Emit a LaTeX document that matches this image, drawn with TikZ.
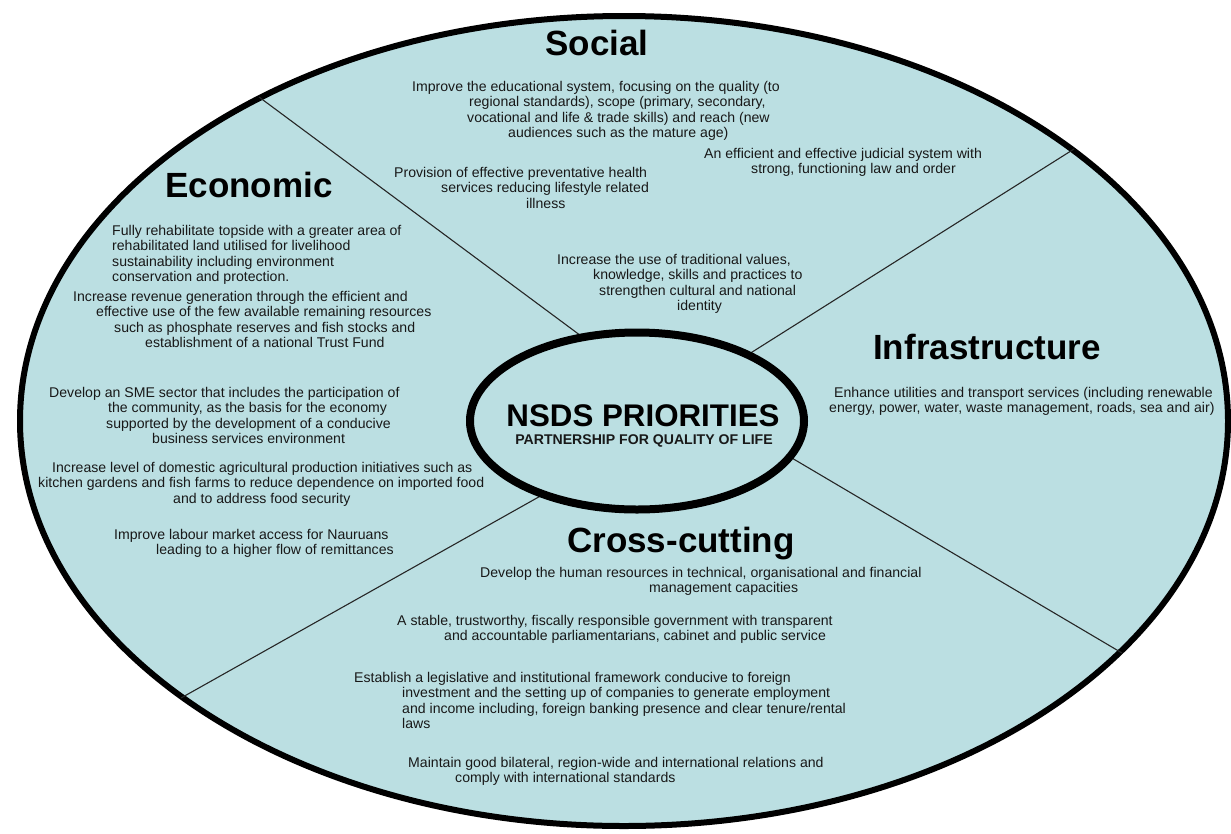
\documentclass[tikz,border=0pt]{standalone}
\usepackage{fontspec}
\setmainfont{Liberation Sans}
\usetikzlibrary{shapes.geometric}

\definecolor{lagoon}{RGB}{187,223,226}
\definecolor{ink}{RGB}{24,24,24}

\tikzset{
  sector/.style={font=\fontsize{35}{40}\selectfont\bfseries, anchor=base, inner sep=0pt},
  aim/.style={font=\fontsize{14.1}{15.4}\selectfont, text=ink, align=left,
    anchor=north west, inner sep=0pt},
  divider/.style={line width=1.1pt, draw=black!85},
}
% indent of a continuation line
\newcommand{\indentby}[1]{\hspace*{#1pt}}

\begin{document}
\begin{tikzpicture}[x=1pt,y=-1pt]
  \useasboundingbox (0,0) rectangle (1231,833);

  % outer ring and the four sector borders
  \node[ellipse, draw, line width=6pt, fill=lagoon, inner sep=0pt,
    minimum width=1208pt, minimum height=810pt] (board) at (624,421) {};
  \coordinate (d1o) at (259,97);
  \coordinate (d1i) at (600,350);
  \coordinate (d2o) at (1074,149);
  \coordinate (d2i) at (730,366);
  \coordinate (d3o) at (1122,653);
  \coordinate (d3i) at (780,451);
  \coordinate (d4o) at (181,698);
  \coordinate (d4i) at (560,485);
  \draw[divider] (d1o) -- (d1i);
  \draw[divider] (d2o) -- (d2i);
  \draw[divider] (d3o) -- (d3i);
  \draw[divider] (d4o) -- (d4i);

  % centre
  \node[ellipse, draw, line width=8pt, fill=lagoon, inner sep=0pt,
    minimum width=334pt, minimum height=177pt] (core) at (637,421) {};
  \node[anchor=base, inner sep=0pt, font=\fontsize{31.3}{34}\selectfont\bfseries]
    (nsds) at (643,426) {NSDS PRIORITIES};
  \node[anchor=base, inner sep=0pt, font=\fontsize{14.1}{16}\selectfont\bfseries, text=ink]
    (motto) at (644,444) {PARTNERSHIP FOR QUALITY OF LIFE};

  % sector headings
  \node[sector] (social) at (597,55) {Social};
  \node[sector] (econ) at (249,197) {Economic};
  \node[sector] (infra) at (987,359) {Infrastructure};
  \node[sector] (cross) at (681,552) {Cross-cutting};

  % social
  \node[aim] (s1) at (412,80.6) {\strut Improve the educational system, focusing on the quality (to\\
    \indentby{57}regional standards), scope (primary, secondary,\\
    \indentby{55}vocational and life \& trade skills) and reach (new\\
    \indentby{96}audiences such as the mature age)};
  \node[aim] (s2) at (704,147.6) {\strut An efficient and effective judicial system with\\
    \indentby{47}strong, functioning law and order};
  \node[aim] (s3) at (394,166.6) {\strut Provision of effective preventative health\\
    \indentby{47}services reducing lifestyle related\\
    \indentby{132}illness};
  \node[aim] (s4) at (557,253.6) {\strut Increase the use of traditional values,\\
    \indentby{36}knowledge, skills and practices to\\
    \indentby{42}strengthen cultural and national\\
    \indentby{120}identity};

  % economic
  \node[aim] (e1) at (112,224.6) {\strut Fully rehabilitate topside with a greater area of\\
    rehabilitated land utilised for livelihood\\
    sustainability including environment\\
    conservation and protection.};
  \node[aim] (e2) at (73,290.6) {\strut Increase revenue generation through the efficient and\\
    \indentby{23}effective use of the few available remaining resources\\
    \indentby{41}such as phosphate reserves and fish stocks and\\
    \indentby{72}establishment of a national Trust Fund};
  \node[aim] (e3) at (49,386.6) {\strut Develop an SME sector that includes the participation of\\
    \indentby{59}the community, as the basis for the economy\\
    \indentby{57}supported by the development of a conducive\\
    \indentby{103}business services environment};
  \node[aim] (e4) at (38,461.6) {\strut\indentby{14}Increase level of domestic agricultural production initiatives such as\\
    kitchen gardens and fish farms to reduce dependence on imported food\\
    \indentby{135}and to address food security};
  \node[aim] (e5) at (114,528.6) {\strut Improve labour market access for Nauruans\\
    \indentby{42}leading to a higher flow of remittances};

  % infrastructure
  \node[aim] (i1) at (829,386.6) {\strut\indentby{5}Enhance utilities and transport services (including renewable\\
    energy, power, water, waste management, roads, sea and air)};

  % cross-cutting
  \node[aim] (c1) at (480,566.6) {\strut Develop the human resources in technical, organisational and financial\\
    \indentby{169}management capacities};
  \node[aim] (c2) at (397,614.6) {\strut A stable, trustworthy, fiscally responsible government with transparent\\
    \indentby{47}and accountable parliamentarians, cabinet and public service};
  \node[aim] (c3) at (354,671.6) {\strut Establish a legislative and institutional framework conducive to foreign\\
    \indentby{48}investment and the setting up of companies to generate employment\\
    \indentby{48}and income including, foreign banking presence and clear tenure/rental\\
    \indentby{48}laws};
  \node[aim] (c4) at (408,756.6) {\strut Maintain good bilateral, region-wide and international relations and\\
    \indentby{47}comply with international standards};
\end{tikzpicture}
\end{document}
